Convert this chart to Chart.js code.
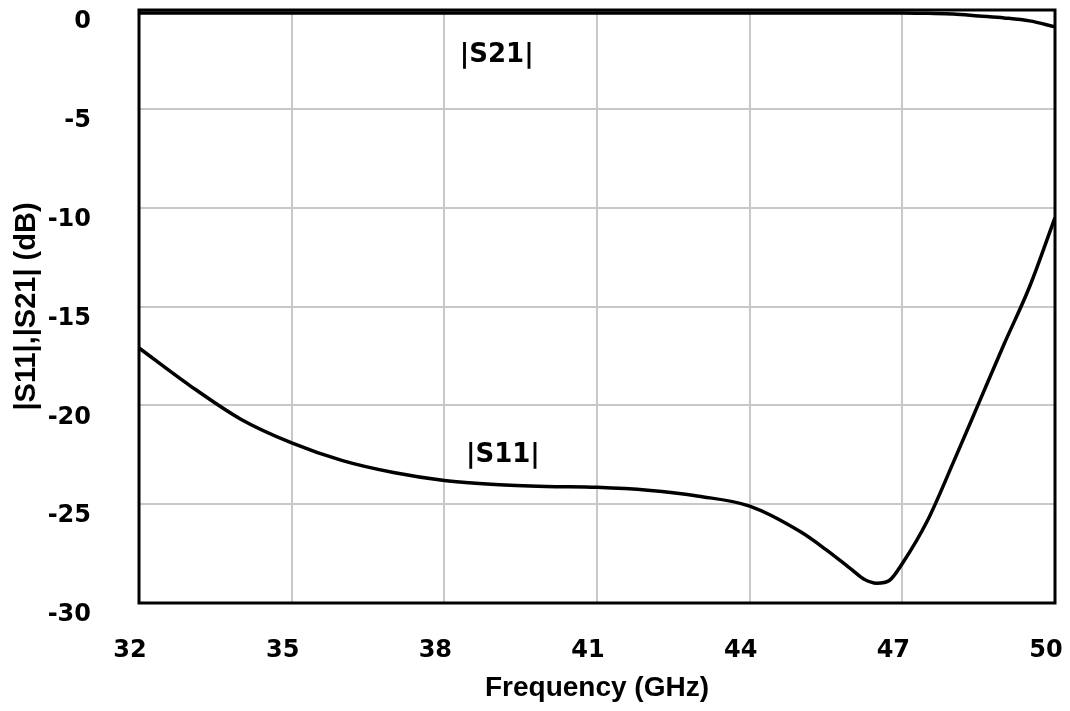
<!DOCTYPE html>
<html>
<head>
<meta charset="utf-8">
<title>|S11|, |S21|</title>
<script src="https://cdn.jsdelivr.net/npm/chart.js@4.4.0/dist/chart.umd.min.js"></script>
<style>
  body { margin: 0; background: #fff; }
  canvas { display: block; }
</style>
</head>
<body>
<canvas id="sChart" width="1070" height="711"></canvas>
<script>
// Valores (GHz / dB)
const freqs = [32, 33, 34, 35, 36, 37, 38, 39, 40, 41, 42, 43, 44, 45, 45.5, 46, 46.25, 46.5, 46.75, 47, 47.5, 48, 48.5, 49, 49.5, 50];
const s11Values = [-17.1, -19.0, -20.7, -21.9, -22.8, -23.4, -23.8, -24.0, -24.1, -24.15, -24.3, -24.6, -25.1, -26.4, -27.3, -28.3, -28.8, -29.0, -28.85, -28.0, -25.8, -22.9, -19.9, -16.9, -14.0, -10.5];
const s21Values = [-0.15, -0.15, -0.15, -0.15, -0.15, -0.15, -0.15, -0.15, -0.15, -0.15, -0.15, -0.15, -0.15, -0.15, -0.15, -0.15, -0.15, -0.15, -0.15, -0.15, -0.17, -0.2, -0.3, -0.4, -0.55, -0.85];
const xTicks = [32, 35, 38, 41, 44, 47, 50];
const yTicks = [0, -5, -10, -15, -20, -25, -30];
// rótulos das curvas: [texto, freq, dB]
const curveLabels = [['|S21|', 39.03, -2.3], ['|S11|', 39.15, -22.5]];

const FONT = '"Liberation Sans", Arial, sans-serif';
const TICK_FONT = '"DejaVu Sans", sans-serif';

function toPoints(values) {
    return freqs.map((f, i) => ({ x: f, y: values[i] }));
}

// Moldura preta em volta da área do gráfico + rótulos das curvas
const framePlugin = {
    id: 'frame',
    afterDatasetsDraw(chart) {
        const { ctx, chartArea, scales } = chart;
        ctx.save();
        ctx.fillStyle = '#000';
        ctx.font = 'bold 26px ' + TICK_FONT;
        ctx.textAlign = 'center';
        ctx.textBaseline = 'middle';
        curveLabels.forEach(([txt, f, db]) => {
            ctx.fillText(txt, scales.x.getPixelForValue(f), scales.y.getPixelForValue(db));
        });
        ctx.strokeStyle = '#000';
        ctx.lineWidth = 3;
        ctx.strokeRect(chartArea.left, chartArea.top, chartArea.right - chartArea.left, chartArea.bottom - chartArea.top);
        ctx.restore();
    }
};

new Chart(document.getElementById('sChart').getContext('2d'), {
    type: 'line',
    data: {
        datasets: [
            {
                label: '|S21|',
                data: toPoints(s21Values),
                borderColor: '#000',
                borderWidth: 3.5,
                pointRadius: 0,
                cubicInterpolationMode: 'monotone'
            },
            {
                label: '|S11|',
                data: toPoints(s11Values),
                borderColor: '#000',
                borderWidth: 3.5,
                pointRadius: 0,
                cubicInterpolationMode: 'monotone'
            }
        ]
    },
    options: {
        responsive: false,
        animation: false,
        layout: { padding: { top: 10, right: 15, left: 0, bottom: 0 } },
        plugins: {
            legend: { display: false },
            tooltip: { enabled: false }
        },
        scales: {
            x: {
                type: 'linear',
                min: 32,
                max: 50,
                afterBuildTicks: (s) => { s.ticks = xTicks.map(v => ({ value: v })); },
                afterFit: (s) => { s.height = 108; s.paddingLeft = 0; s.paddingRight = 0; },
                border: { display: false },
                grid: { color: '#c8c8c8', lineWidth: 2, drawTicks: false },
                ticks: {
                    color: '#000',
                    padding: 33,
                    labelOffset: -9,
                    maxRotation: 0,
                    font: { family: TICK_FONT, size: 24, weight: 'bold' }
                },
                title: {
                    display: true,
                    text: 'Frequency (GHz)',
                    color: '#000',
                    padding: { top: 0, bottom: 6 },
                    font: { family: FONT, size: 28, weight: 'bold' }
                }
            },
            y: {
                min: -30,
                max: 0,
                afterBuildTicks: (s) => { s.ticks = yTicks.map(v => ({ value: v })); },
                afterFit: (s) => { s.width = 139; s.paddingTop = 0; s.paddingBottom = 0; },
                border: { display: false },
                grid: { color: '#c8c8c8', lineWidth: 2, drawTicks: false },
                ticks: {
                    color: '#000',
                    padding: 48,
                    labelOffset: 12,
                    font: { family: TICK_FONT, size: 24, weight: 'bold' }
                },
                title: {
                    display: true,
                    text: '|S11|,|S21| (dB)',
                    color: '#000',
                    padding: { top: 10, bottom: 0 },
                    font: { family: FONT, size: 29, weight: 'bold' }
                }
            }
        }
    },
    plugins: [framePlugin]
});
</script>
</body>
</html>
